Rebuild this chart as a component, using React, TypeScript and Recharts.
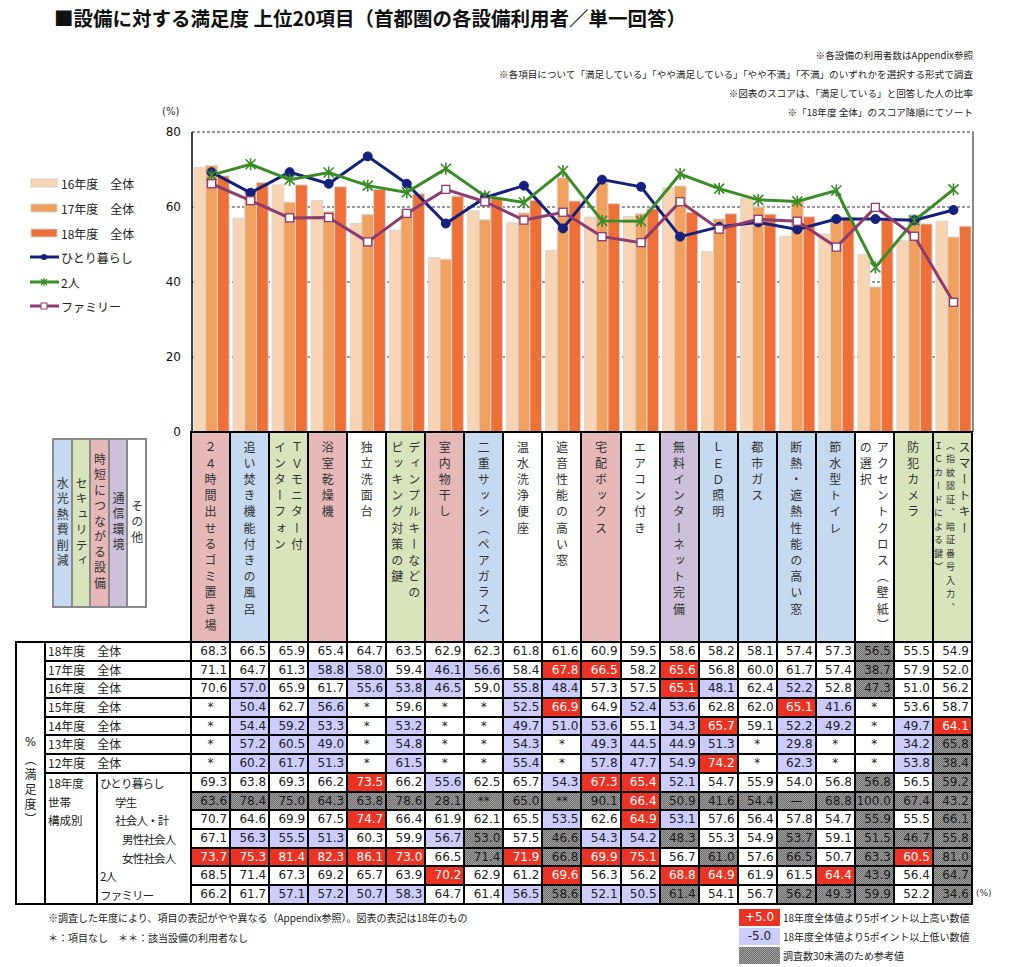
import React from 'react';
import { ComposedChart, Bar, Line, XAxis, YAxis, CartesianGrid } from 'recharts';

const JP = '"Noto Sans CJK JP", "Noto Sans", sans-serif';
const NUM = '"DejaVu Sans", Verdana, sans-serif';

const categories = [
  '24時間出せるゴミ置き場', '追い焚き機能付きの風呂', 'TVモニター付インターフォン', '浴室乾燥機', '独立洗面台',
  'ディンプルキーなどのピッキング対策の鍵', '室内物干し', '二重サッシ（ペアガラス）', '温水洗浄便座', '遮音性能の高い窓',
  '宅配ボックス', 'エアコン付き', '無料インターネット完備', 'LED照明', '都市ガス',
  '断熱・遮熱性能の高い窓', '節水型トイレ', 'アクセントクロス（壁紙）の選択', '防犯カメラ', 'スマートキー',
];

const categoryLines: string[][] = [
  ['２４時間出せるゴミ置き場'], ['追い焚き機能付きの風呂'], ['ＴＶモニター付', 'インターフォン'], ['浴室乾燥機'], ['独立洗面台'],
  ['ディンプルキーなどの', 'ピッキング対策の鍵'], ['室内物干し'], ['二重サッシ（ペアガラス）'], ['温水洗浄便座'], ['遮音性能の高い窓'],
  ['宅配ボックス'], ['エアコン付き'], ['無料インターネット完備'], ['ＬＥＤ照明'], ['都市ガス'],
  ['断熱・遮熱性能の高い窓'], ['節水型トイレ'], ['アクセントクロス（壁紙）', 'の選択'], ['防犯カメラ'],
  ['スマートキー', '（指紋認証、暗証番号入力、', 'ＩＣカードによる鍵）'],
];

const categoryGroups = ['pink', 'blue', 'green', 'pink', 'white', 'green', 'pink', 'blue', 'white', 'white',
  'pink', 'white', 'purple', 'blue', 'blue', 'blue', 'blue', 'white', 'green', 'green'];

const groupLegend = [
  { key: 'blue', label: '水光熱費削減' },
  { key: 'green', label: 'セキュリティ' },
  { key: 'pink', label: '時短につながる設備' },
  { key: 'purple', label: '通信環境' },
  { key: 'white', label: 'その他' },
];

const r18 = ['68.3', '66.5', '65.9', '65.4', '64.7', '63.5', '62.9', '62.3', '61.8', '61.6', '60.9', '59.5', '58.6', '58.2', '58.1', '57.4', '57.3', '56.5', '55.5', '54.9'];
const r17 = ['71.1', '64.7', '61.3', '58.8', '58.0', '59.4', '46.1', '56.6', '58.4', '67.8', '66.5', '58.2', '65.6', '56.8', '60.0', '61.7', '57.4', '38.7', '57.9', '52.0'];
const r16 = ['70.6', '57.0', '65.9', '61.7', '55.6', '53.8', '46.5', '59.0', '55.8', '48.4', '57.3', '57.5', '65.1', '48.1', '62.4', '52.2', '52.8', '47.3', '51.0', '56.2'];
const r15 = ['*', '50.4', '62.7', '56.6', '*', '59.6', '*', '*', '52.5', '66.9', '64.9', '52.4', '53.6', '62.8', '62.0', '65.1', '41.6', '*', '53.6', '58.7'];
const r14 = ['*', '54.4', '59.2', '53.3', '*', '53.2', '*', '*', '49.7', '51.0', '53.6', '55.1', '34.3', '65.7', '59.1', '52.2', '49.2', '*', '49.7', '64.1'];
const r13 = ['*', '57.2', '60.5', '49.0', '*', '54.8', '*', '*', '54.3', '*', '49.3', '44.5', '44.9', '51.3', '*', '29.8', '*', '*', '34.2', '65.8'];
const r12 = ['*', '60.2', '61.7', '51.3', '*', '61.5', '*', '*', '55.4', '*', '57.8', '47.7', '54.9', '74.2', '*', '62.3', '*', '*', '53.8', '38.4'];
const rSolo = ['69.3', '63.8', '69.3', '66.2', '73.5', '66.2', '55.6', '62.5', '65.7', '54.3', '67.3', '65.4', '52.1', '54.7', '55.9', '54.0', '56.8', '56.8', '56.5', '59.2'];
const rStudent = ['63.6', '78.4', '75.0', '64.3', '63.8', '78.6', '28.1', '**', '65.0', '**', '90.1', '66.4', '50.9', '41.6', '54.4', '—', '68.8', '100.0', '67.4', '43.2'];
const rWorker = ['70.7', '64.6', '69.9', '67.5', '74.7', '66.4', '61.9', '62.1', '65.5', '53.5', '62.6', '64.9', '53.1', '57.6', '56.4', '57.8', '54.7', '55.9', '55.5', '66.1'];
const rMale = ['67.1', '56.3', '55.5', '51.3', '60.3', '59.9', '56.7', '53.0', '57.5', '46.6', '54.3', '54.2', '48.3', '55.3', '54.9', '53.7', '59.1', '51.5', '46.7', '55.8'];
const rFemale = ['73.7', '75.3', '81.4', '82.3', '86.1', '73.0', '66.5', '71.4', '71.9', '66.8', '69.9', '75.1', '56.7', '61.0', '57.6', '66.5', '50.7', '63.3', '60.5', '81.0'];
const rCouple = ['68.5', '71.4', '67.3', '69.2', '65.7', '63.9', '70.2', '62.9', '61.2', '69.6', '56.3', '56.2', '68.8', '64.9', '61.9', '61.5', '64.4', '43.9', '56.4', '64.7'];
const rFamily = ['66.2', '61.7', '57.1', '57.2', '50.7', '58.3', '64.7', '61.4', '56.5', '58.6', '52.1', '50.5', '61.4', '54.1', '56.7', '56.2', '49.3', '59.9', '52.2', '34.6'];

// cell marks: w = normal, r = +5pt, b = -5pt, g = n<30
const c18 = 'wwwwwwwwwwwwwwwwwgww';
const c17 = 'wwwbbwbbwrrwrwwwwgww';
const c16 = 'wbwwbbbwbbwwrbwbwgww';
const c15 = 'wbwbwwwwbrwbbwwrbwww';
const c14 = 'wbbbwbwwbbbwbrwbbwbr';
const c13 = 'wbbbwbwwbwbbbbwbwwbg';
const c12 = 'wbbbwbwwbwbbbrwbwwbg';
const cSolo = 'wwwwrwbwwbrrbwwwwgwg';
const cStudent = 'gggggggggggrgggggggg';
const cWorker = 'wwwwrwwwwbwrbwwwwgwg';
const cMale = 'wbbbwwbgwgbbgwwgwggg';
const cFemale = 'rrrrrrwgrgrrwgwgwgrg';
const cCouple = 'wwwwwwrwwrwwrrwwrgwg';
const cFamily = 'wwbbbbwwbgbbgwwgggwg';

const tableRows = [r18, r17, r16, r15, r14, r13, r12, rSolo, rStudent, rWorker, rMale, rFemale, rCouple, rFamily];
const tableMarks = [c18, c17, c16, c15, c14, c13, c12, cSolo, cStudent, cWorker, cMale, cFemale, cCouple, cFamily];
const yearLabels = ['18年度　全体', '17年度　全体', '16年度　全体', '15年度　全体', '14年度　全体', '13年度　全体', '12年度　全体'];
const householdLabels = [
  { text: 'ひとり暮らし', indent: 2 },
  { text: '学生', indent: 17 },
  { text: '社会人・計', indent: 17 },
  { text: '男性社会人', indent: 24 },
  { text: '女性社会人', indent: 24 },
  { text: '2人', indent: 2 },
  { text: 'ファミリー', indent: 2 },
];
const yTicks = [0, 20, 40, 60, 80];

const chartData = categories.map((name, i) => ({
  name,
  y16: Number(r16[i]),
  y17: Number(r17[i]),
  y18: Number(r18[i]),
  solo: Number(rSolo[i]),
  couple: Number(rCouple[i]),
  family: Number(rFamily[i]),
}));

const C16 = '#F9D4B2';
const C17 = '#F1A05D';
const C18 = '#EE7036';
const CSOLO = '#14207E';
const CCOUPLE = '#3A8C27';
const CFAMILY = '#8C3C6E';

const groupColor: Record<string, string> = {
  pink: '#E6B8B7', blue: '#C5D9F1', green: '#D8E4BC', purple: '#CCC0DA', white: '#FFFFFF',
};

const GRAY_BG = 'repeating-conic-gradient(#6c6c6c 0% 25%, #a2a2a2 0% 50%) 0 0 / 2px 2px';

const cellStyle = (m: string): React.CSSProperties => {
  if (m === 'r') return { background: '#EC3323', color: '#fff' };
  if (m === 'b') return { background: '#CCCCFF', color: '#222' };
  if (m === 'g') return { background: GRAY_BG, color: '#1a1a1a' };
  return { background: '#fff', color: '#222' };
};

const SoloDot = (p: any) => {
  if (p.cx == null) return <g key={p.index} />;
  return <circle key={p.index} cx={p.cx} cy={p.cy} r={4.5} fill={CSOLO} stroke={CSOLO} />;
};
const CoupleDot = (p: any) => {
  if (p.cx == null) return <g key={p.index} />;
  const s = 5;
  const { cx, cy } = p;
  return (
    <path key={p.index}
      d={`M${cx - s},${cy - s}L${cx + s},${cy + s}M${cx - s},${cy + s}L${cx + s},${cy - s}M${cx},${cy - s - 1}L${cx},${cy + s + 1}`}
      stroke={CCOUPLE} strokeWidth={1.6} fill="none" />
  );
};
const FamilyDot = (p: any) => {
  if (p.cx == null) return <g key={p.index} />;
  return <rect key={p.index} x={p.cx - 4} y={p.cy - 4} width={8} height={8} fill="#fff" stroke={CFAMILY} strokeWidth={1.3} />;
};

const legendItems = [
  { label: '16年度　全体', kind: 'bar', color: C16 },
  { label: '17年度　全体', kind: 'bar', color: C17 },
  { label: '18年度　全体', kind: 'bar', color: C18 },
  { label: 'ひとり暮らし', kind: 'solo', color: CSOLO },
  { label: '2人', kind: 'couple', color: CCOUPLE },
  { label: 'ファミリー', kind: 'family', color: CFAMILY },
];
const legendY = [183, 208, 233, 257, 282, 306];

const LegendSwatch = ({ kind, color }: { kind: string; color: string }) => (
  <svg width={30} height={12} style={{ display: 'block' }}>
    {kind === 'bar' && <rect x={1} y={2} width={26} height={8} fill={color} stroke="#d0d0d0" />}
    {kind !== 'bar' && <line x1={0} y1={6} x2={29} y2={6} stroke={color} strokeWidth={3} />}
    {kind === 'solo' && <circle cx={14} cy={6} r={3} fill={color} />}
    {kind === 'couple' && <path d="M11,3L17,9M11,9L17,3M14,2L14,10" stroke={color} strokeWidth={1.3} />}
    {kind === 'family' && <rect x={11} y={3} width={6} height={6} fill="#fff" stroke={color} />}
  </svg>
);

const notesTop = [
  '※各設備の利用者数はAppendix参照',
  '※各項目について「満足している」「やや満足している」「やや不満」「不満」のいずれかを選択する形式で調査',
  '※図表のスコアは、「満足している」と回答した人の比率',
  '※「18年度 全体」のスコア降順にてソート',
];

export default function App() {
  const chartLeft = 120;
  const chartTop = 120;
  const chartW = 870;
  const chartH = 326;
  return (
    <div style={{ position: 'absolute', left: 0, top: 0, width: 1024, height: 967, background: '#fff', fontFamily: JP, color: '#222', overflow: 'hidden' }}>
      <div style={{ position: 'absolute', left: 54, top: 5, fontSize: 19.5, fontWeight: 700, lineHeight: '26px', color: '#111', whiteSpace: 'nowrap' }}>
        ■設備に対する満足度 上位20項目（首都圏の各設備利用者／単一回答）
      </div>
      {notesTop.map((t, i) => (
        <div key={i} style={{ position: 'absolute', right: 1024 - 973, top: 47 + i * 19, fontSize: 9.6, lineHeight: '16px', whiteSpace: 'nowrap', color: '#222' }}>{t}</div>
      ))}
      <div style={{ position: 'absolute', left: 162, top: 106, fontSize: 10, fontFamily: NUM, color: '#222' }}>(%)</div>

      {legendItems.map((it, i) => (
        <div key={i} style={{ position: 'absolute', left: 30, top: legendY[i] - 8, height: 16, display: 'flex', alignItems: 'center', whiteSpace: 'nowrap' }}>
          <LegendSwatch kind={it.kind} color={it.color} />
          <span style={{ fontSize: 12, marginLeft: 1, color: '#222' }}>{it.label}</span>
        </div>
      ))}

      <div style={{ position: 'absolute', left: chartLeft, top: chartTop }}>
        <ComposedChart width={chartW} height={chartH} data={chartData}
          margin={{ top: 12, right: chartW - (973 - chartLeft), bottom: chartH - 312, left: 0 }}>
          <CartesianGrid vertical={false} stroke="#333" strokeDasharray="3 2" />
          <XAxis dataKey="name" hide />
          <YAxis domain={[0, 80]} ticks={yTicks} width={72} tickLine={false} tickSize={6} tickMargin={5}
            axisLine={{ stroke: '#000', strokeWidth: 1.5 }}
            tick={{ fill: '#111', fontSize: 12, fontFamily: NUM }} interval={0} />
          <Bar dataKey="y16" fill={C16} stroke="#d6d6d6" strokeWidth={1} barSize={14} isAnimationActive={false} />
          <Bar dataKey="y17" fill={C17} stroke="#d6d6d6" strokeWidth={1} barSize={14} isAnimationActive={false} />
          <Bar dataKey="y18" fill={C18} stroke="#d6d6d6" strokeWidth={1} barSize={14} isAnimationActive={false} />
          <Line dataKey="solo" stroke={CSOLO} strokeWidth={3} dot={SoloDot} activeDot={false} isAnimationActive={false} />
          <Line dataKey="couple" stroke={CCOUPLE} strokeWidth={3} dot={CoupleDot} activeDot={false} isAnimationActive={false} />
          <Line dataKey="family" stroke={CFAMILY} strokeWidth={3} dot={FamilyDot} activeDot={false} isAnimationActive={false} />
        </ComposedChart>
      </div>
      <div style={{ position: 'absolute', left: 972, top: 132, width: 1.5, height: 300, background: '#8a8a8a' }} />

      {/* category group legend */}
      <div style={{ position: 'absolute', left: 52, top: 438, width: 95, height: 170, background: '#8a8a8a', padding: 2, boxSizing: 'border-box', display: 'grid', gridTemplateColumns: 'repeat(5, 1fr)', gap: 2 }}>
        {groupLegend.map((g) => (
          <div key={g.key} style={{ background: groupColor[g.key], display: 'flex', alignItems: 'center', justifyContent: 'center' }}>
            <div style={{ writingMode: 'vertical-rl', fontSize: 12, letterSpacing: 3.5, lineHeight: '16px', color: '#333' }}>{g.label}</div>
          </div>
        ))}
      </div>

      {/* category header cells */}
      <div style={{ position: 'absolute', left: 190, top: 431, height: 210, background: '#000', padding: '2px 2px 0 2px', display: 'grid', gridTemplateColumns: 'repeat(20, 37.05px)', columnGap: 2 }}>
        {categoryLines.map((lines, i) => (
          <div key={i} style={{ background: groupColor[categoryGroups[i]], display: 'flex', justifyContent: 'center', paddingTop: 8 }}>
            <div style={{ writingMode: 'vertical-rl', color: '#333', whiteSpace: 'nowrap' }}>
              {lines.map((l, j) => {
                const small = i === 19 && j > 0;
                return (
                  <div key={j} style={{ fontSize: small ? 9 : 12, letterSpacing: small ? 4.5 : 4.2, lineHeight: small ? '12px' : (lines.length > 1 ? '17px' : '19px') }}>{l}</div>
                );
              })}
            </div>
          </div>
        ))}
      </div>

      {/* data table */}
      <div style={{ position: 'absolute', left: 15, top: 641, background: '#000', padding: 2, display: 'grid', gridTemplateColumns: '27px 50px 92px repeat(20, 37.05px)', gridTemplateRows: 'repeat(14, 16.7px)', gap: 2 }}>
        <div style={{ gridColumn: '1', gridRow: '1 / 15', background: '#fff', display: 'flex', flexDirection: 'column', alignItems: 'center', justifyContent: 'center', paddingTop: 18 }}>
          <div style={{ fontSize: 12, fontFamily: NUM }}>%</div>
          <div style={{ writingMode: 'vertical-rl', fontSize: 12, letterSpacing: 3, marginTop: 4 }}>（満足度）</div>
        </div>
        {yearLabels.map((l, r) => (
          <div key={'y' + r} style={{ gridColumn: '2 / 4', gridRow: `${r + 1}`, background: '#fff', fontSize: 12, lineHeight: '16.7px', paddingLeft: 2, whiteSpace: 'nowrap' }}>{l}</div>
        ))}
        <div style={{ gridColumn: '2', gridRow: '8 / 15', background: '#fff', fontSize: 11.5, paddingLeft: 2 }}>
          {['18年度', '世帯', '構成別'].map((t, i) => (
            <div key={i} style={{ height: 18.7, lineHeight: '18.7px' }}>{t}</div>
          ))}
        </div>
        <div style={{ gridColumn: '3', gridRow: '8 / 15', background: '#fff', fontSize: 11.5 }}>
          {householdLabels.map((h, i) => (
            <div key={i} style={{ height: 18.7, lineHeight: '18.7px', paddingLeft: h.indent, letterSpacing: -0.8, whiteSpace: 'nowrap' }}>{h.text}</div>
          ))}
        </div>
        {tableRows.map((row, r) => row.map((v, c) => (
          <div key={`${r}-${c}`} style={{
            gridColumn: `${c + 4}`, gridRow: `${r + 1}`, ...cellStyle(tableMarks[r][c]),
            fontFamily: NUM, fontSize: 12, lineHeight: '16.7px',
            textAlign: v === '*' || v === '**' || v === '—' ? 'center' : 'right',
            paddingRight: v === '*' || v === '**' || v === '—' ? 0 : 2, whiteSpace: 'nowrap', overflow: 'hidden',
          }}>{v}</div>
        )))}
      </div>
      <div style={{ position: 'absolute', left: 976, top: 888, fontSize: 9, fontFamily: NUM, color: '#333' }}>(%)</div>

      {/* bottom notes */}
      <div style={{ position: 'absolute', left: 48, top: 910, fontSize: 10, lineHeight: '16px', whiteSpace: 'nowrap' }}>
        ※調査した年度により、項目の表記がやや異なる（Appendix参照）。図表の表記は18年のもの
      </div>
      <div style={{ position: 'absolute', left: 48, top: 930, fontSize: 10, lineHeight: '16px', whiteSpace: 'nowrap' }}>
        ＊：項目なし　＊＊：該当設備の利用者なし
      </div>

      {/* color legend */}
      {[
        { m: 'r', box: '+5.0', text: '18年度全体値より5ポイント以上高い数値' },
        { m: 'b', box: '-5.0', text: '18年度全体値より5ポイント以上低い数値' },
        { m: 'g', box: '', text: '調査数30未満のため参考値' },
      ].map((it, i) => (
        <React.Fragment key={i}>
          <div style={{ position: 'absolute', left: 739, top: 909 + i * 19, width: 41, height: 17, ...cellStyle(it.m), fontFamily: NUM, fontSize: 12, lineHeight: '17px', textAlign: 'center' }}>{it.box}</div>
          <div style={{ position: 'absolute', left: 783, top: 909 + i * 19, fontSize: 10, lineHeight: '17px', whiteSpace: 'nowrap' }}>{it.text}</div>
        </React.Fragment>
      ))}
    </div>
  );
}
